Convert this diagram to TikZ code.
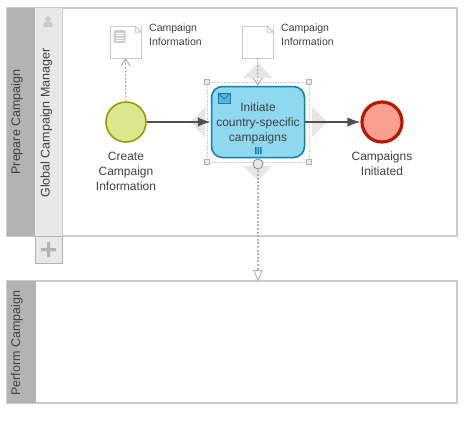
\documentclass[tikz,border=0pt]{standalone}
\usepackage{fontspec}
\setmainfont{Liberation Sans}
\usetikzlibrary{arrows.meta}
\definecolor{inkgray}{HTML}{404040}
\definecolor{flowgray}{HTML}{505050}
\definecolor{headgray}{HTML}{B3B3B3}
\definecolor{lanegray}{HTML}{E8E8E8}
\definecolor{edgegray}{HTML}{CCCCCC}
\definecolor{hintgray}{HTML}{E6E6E6}
\definecolor{taskblue}{HTML}{8FD9F0}
\definecolor{taskedge}{HTML}{0F7DB5}
\definecolor{startfill}{HTML}{DAE78F}
\definecolor{startedge}{HTML}{9A9A00}
\definecolor{finishfill}{HTML}{F9A08F}
\definecolor{finishedge}{HTML}{B81800}
\tikzset{
  label12/.style={font=\fontsize{12}{15}\selectfont, text=inkgray, align=center, inner sep=0pt},
  label10/.style={font=\fontsize{10.5}{14}\selectfont, text=inkgray, align=left, anchor=north west, inner sep=0pt},
  sidelabel/.style={font=\fontsize{12.5}{15}\selectfont, text=inkgray, rotate=90, inner sep=0pt},
  docbox/.style={draw=edgegray, fill=white, line width=1pt, minimum width=31pt, minimum height=32pt, inner sep=0pt, outer sep=0pt},
  hint/.style={fill=hintgray, draw=none},
  grip/.style={draw=headgray, fill=lanegray, line width=0.7pt, minimum size=5pt, inner sep=0pt},
  flow/.style={draw=flowgray, line width=1.7pt, -{Latex[length=13pt,width=9.5pt]}},
  assoc/.style={draw=headgray, line width=1.2pt, dash pattern=on 2pt off 1.6pt},
}
\begin{document}
\begin{tikzpicture}[x=1pt,y=-1pt]
  \useasboundingbox (0,0) rectangle (468,437);
  \fill[white] (0,0) rectangle (468,437);
  % upper pool
  \draw[edgegray, line width=1.2pt, fill=white] (7,8) rectangle (457,236);
  \fill[headgray] (7,8) rectangle (35,236);
  \fill[lanegray] (35,8) rectangle (62,236);
  \draw[edgegray, line width=1pt] (62,8) -- (62,236);
  \node[sidelabel] (prepare) at (17,122) {Prepare Campaign};
  \node[sidelabel] (manager) at (46.5,123) {Global Campaign Manager};
  \fill[headgray!70] (48,19) circle (3) (43,27) -- (44.5,22) -- (51.5,22) -- (53,27) -- cycle;
  % add lane button
  \node[draw=headgray, fill=lanegray, line width=0.8pt, minimum width=27pt, minimum height=27pt, inner sep=0pt] (addlane) at (48.5,249.5) {};
  \fill[headgray] (41,248) rectangle (56,251) (47,242) rectangle (50,257);
  % lower pool
  \draw[edgegray, line width=1.2pt, fill=white] (7,281) rectangle (457,403);
  \fill[headgray] (7,281) rectangle (36,403);
  \node[sidelabel] (perform) at (17,343) {Perform Campaign};
  \coordinate (poolin) at (258,282);
  % hints around the task
  \fill[hint] (243,78) -- (258,63) -- (272,78) -- cycle;
  \fill[hint] (205,107) -- (190,122) -- (205,137) -- cycle;
  \fill[hint] (312,107) -- (327,122) -- (312,137) -- cycle;
  \fill[hint] (243,166) -- (258,180) -- (272,166) -- cycle;
  % data objects
  \node[docbox] (docA) at (125.5,42) {};
  \node[docbox] (docB) at (257.5,42) {};
  \foreach \d in {docA,docB} {
    \fill[white] ([xshift=-6pt]\d.north east) -- (\d.north east) -- ([yshift=-6pt]\d.north east) -- cycle;
    \draw[edgegray, line width=1pt] ([xshift=-6pt]\d.north east) -- (\d.north east |- 0,32) -- ++(-6,0) -- cycle;
    \draw[edgegray, line width=1pt] ([xshift=-6pt]\d.north east) -- ([yshift=-6pt]\d.north east);
  }
  \fill[edgegray, rounded corners=1.5pt] (113.5,30) rectangle (125.5,43);
  \draw[white, line width=0.6pt] \foreach \y in {33,35.5,38,40.5} {(115.5,\y) -- (123.5,\y)};
  \node[label10] (docAtext) at (149,24) {Campaign\\Information};
  \node[label10] (docBtext) at (281,24) {Campaign\\Information};
  % events
  \node[circle, draw=startedge, fill=startfill, line width=1.6pt, minimum size=40pt, inner sep=0pt] (start) at (126,122) {};
  \node[circle, draw=finishedge, fill=finishfill, line width=3.2pt, minimum size=40pt, inner sep=0pt] (finish) at (382,122) {};
  \node[label12, anchor=north] (starttext) at (126,151.5) {Create\\Campaign\\Information};
  \node[label12, anchor=north] (finishtext) at (382,151.5) {Campaigns\\Initiated};
  % selection frame
  \draw[edgegray, line width=0.7pt, densely dotted] (207,82) rectangle (309,162);
  % task
  \node[draw=taskedge, fill=taskblue, line width=1.5pt, rounded corners=11pt, minimum width=93pt, minimum height=71pt, inner sep=0pt] (task) at (258,122) {};
  \node[label12] (tasktext) at (258,123) {Initiate\\country-specific\\campaigns};
  \foreach \x/\y in {207/82,309/82,207/162,309/162}
    \node[grip] at (\x,\y) {};
  \node[circle, draw=gray, fill=lanegray, line width=0.7pt, minimum size=10pt, inner sep=0pt] (ring) at (258,164) {};
  \draw[taskedge, fill=taskblue!60!taskedge, line width=0.8pt] (218,93) rectangle (230.5,103.5);
  \draw[taskedge, line width=0.8pt] (218,93) -- (224.25,99) -- (230.5,93);
  \fill[taskedge] \foreach \x in {255,257.5,260} {(\x,147) rectangle ++(1.6,7)};
  % connectors
  \draw[flow] (start) -- (task);
  \draw[flow] (task) -- (finish);
  \draw[assoc, -{Straight Barb[length=7pt,width=9pt,line width=1pt]}] (start) -- (docA);
  \draw[assoc, -{Straight Barb[length=7pt,width=9pt,line width=1pt]}] (docB) -- (task);
  \draw[assoc, -{Triangle[open,fill=white,length=12pt,width=9pt,line width=0.9pt]}, shorten <=1pt] (ring) -- (poolin);
\end{tikzpicture}
\end{document}
